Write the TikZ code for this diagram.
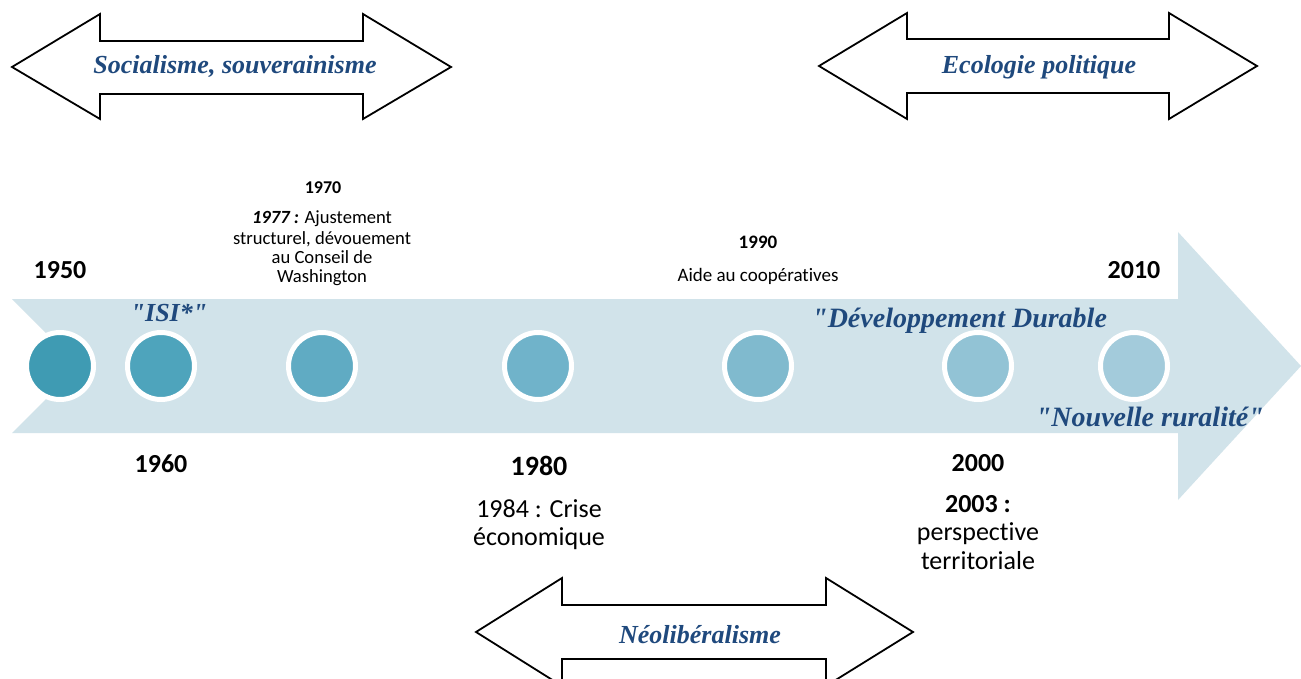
\documentclass[tikz,border=0pt]{standalone}
\usepackage{fontspec}
\setmainfont{Carlito}[Ligatures=NoCommon]
\newfontfamily\hfont{Liberation Serif}
\definecolor{band}{HTML}{D1E3EA}
\definecolor{hblue}{RGB}{31,73,125}
\definecolor{ca}{HTML}{3F9BB3}
\definecolor{cb}{HTML}{4EA4BC}
\definecolor{cc}{HTML}{60ABC3}
\definecolor{cd}{HTML}{70B3CA}
\definecolor{ce}{HTML}{80BACE}
\definecolor{cf}{HTML}{92C3D5}
\definecolor{cg}{HTML}{A3CBDB}
\tikzset{
  dot/.style={circle, minimum size=67pt, inner sep=0pt, draw=white, line width=5pt},
  dbl/.style={draw=black, fill=white, line width=1.8pt, line join=miter},
  head/.style={anchor=base, inner sep=0pt, text=hblue, font=\hfont\bfseries\itshape\fontsize{26}{28}\selectfont},
  blab/.style={anchor=base, inner sep=0pt, text=hblue, font=\hfont\bfseries\itshape\fontsize{28}{30}\selectfont},
  yr/.style={anchor=base, inner sep=0pt, font=\bfseries\fontsize{26}{28}\selectfont},
  big/.style={anchor=base, inner sep=0pt, font=\fontsize{26}{28}\selectfont},
  small/.style={anchor=base, inner sep=0pt, font=\fontsize{18.6}{19}\selectfont},
  smallyr/.style={anchor=base, inner sep=0pt, font=\bfseries\fontsize{18}{19}\selectfont},
}
\begin{document}
\begin{tikzpicture}[x=1pt, y=-1pt]
\clip (0,0) rectangle (1301,679);
\fill[white] (0,0) rectangle (1301,679);
% band arrow
\fill[band] (12,299) -- (1178,299) -- (1178,232) -- (1301,366) -- (1178,500) -- (1178,433) -- (12,433) -- (79,366) -- cycle;
% circles
\node[dot, fill=ca] (c1) at (60,366) {};
\node[dot, fill=cb] (c2) at (161,366) {};
\node[dot, fill=cc] (c3) at (322,366) {};
\node[dot, fill=cd] (c4) at (538,366) {};
\node[dot, fill=ce] (c5) at (758,366) {};
\node[dot, fill=cf] (c6) at (978,366) {};
\node[dot, fill=cg] (c7) at (1134,366) {};
% double arrows
\draw[dbl] (12,67) -- (100,14) -- (100,41) -- (363,41) -- (363,14) -- (451,67) -- (363,119) -- (363,94) -- (100,94) -- (100,119) -- cycle;
\draw[dbl] (819,66) -- (907,13) -- (907,39) -- (1169,39) -- (1169,13) -- (1257,66) -- (1169,119) -- (1169,93) -- (907,93) -- (907,119) -- cycle;
\draw[dbl] (476,632) -- (562,578) -- (562,605) -- (826,605) -- (826,578) -- (913,632) -- (826,686) -- (826,659) -- (562,659) -- (562,686) -- cycle;
\node[head] (socialisme) at (235,74) {Socialisme, souverainisme};
\node[head] (ecologie) at (1039,74) {Ecologie politique};
\node[head] (neolib) at (700,643) {Néolibéralisme};
% band labels
\node[blab, font=\hfont\bfseries\itshape\fontsize{26}{28}\selectfont] (isi) at (169,321) {"ISI*"};
\node[blab, anchor=base west] (dd) at (812,327) {"Développement Durable};
\node[blab, anchor=base east] (nr) at (1264,426) {"Nouvelle ruralité"};
% years
\node[yr] (y1950) at (60,278) {1950};
\node[yr] (y1960) at (161,472) {1960};
\node[smallyr] (y1970) at (323,194) {1970};
\node[small] (t1970a) at (322,224) {\textbf{\textit{1977 :}} Ajustement};
\node[small] (t1970b) at (322,244) {structurel, dévouement};
\node[small] (t1970c) at (322,263) {au Conseil de};
\node[small] (t1970d) at (322,282) {Washington};
\node[yr, font=\bfseries\fontsize{28}{30}\selectfont] (y1980) at (539,475) {1980};
\node[big] (t1980a) at (539,517) {1984 : Crise};
\node[big] (t1980b) at (539,545) {économique};
\node[smallyr, font=\bfseries\fontsize{19}{20}\selectfont] (y1990) at (758,248) {1990};
\node[small, font=\fontsize{19}{20}\selectfont] (t1990) at (758,281) {Aide au coopératives};
\node[yr] (y2000) at (978,471) {2000};
\node[yr] (t2000a) at (978,512) {2003 :};
\node[big] (t2000b) at (978,540) {perspective};
\node[big] (t2000c) at (978,569) {territoriale};
\node[yr] (y2010) at (1134,278) {2010};
\end{tikzpicture}
\end{document}
